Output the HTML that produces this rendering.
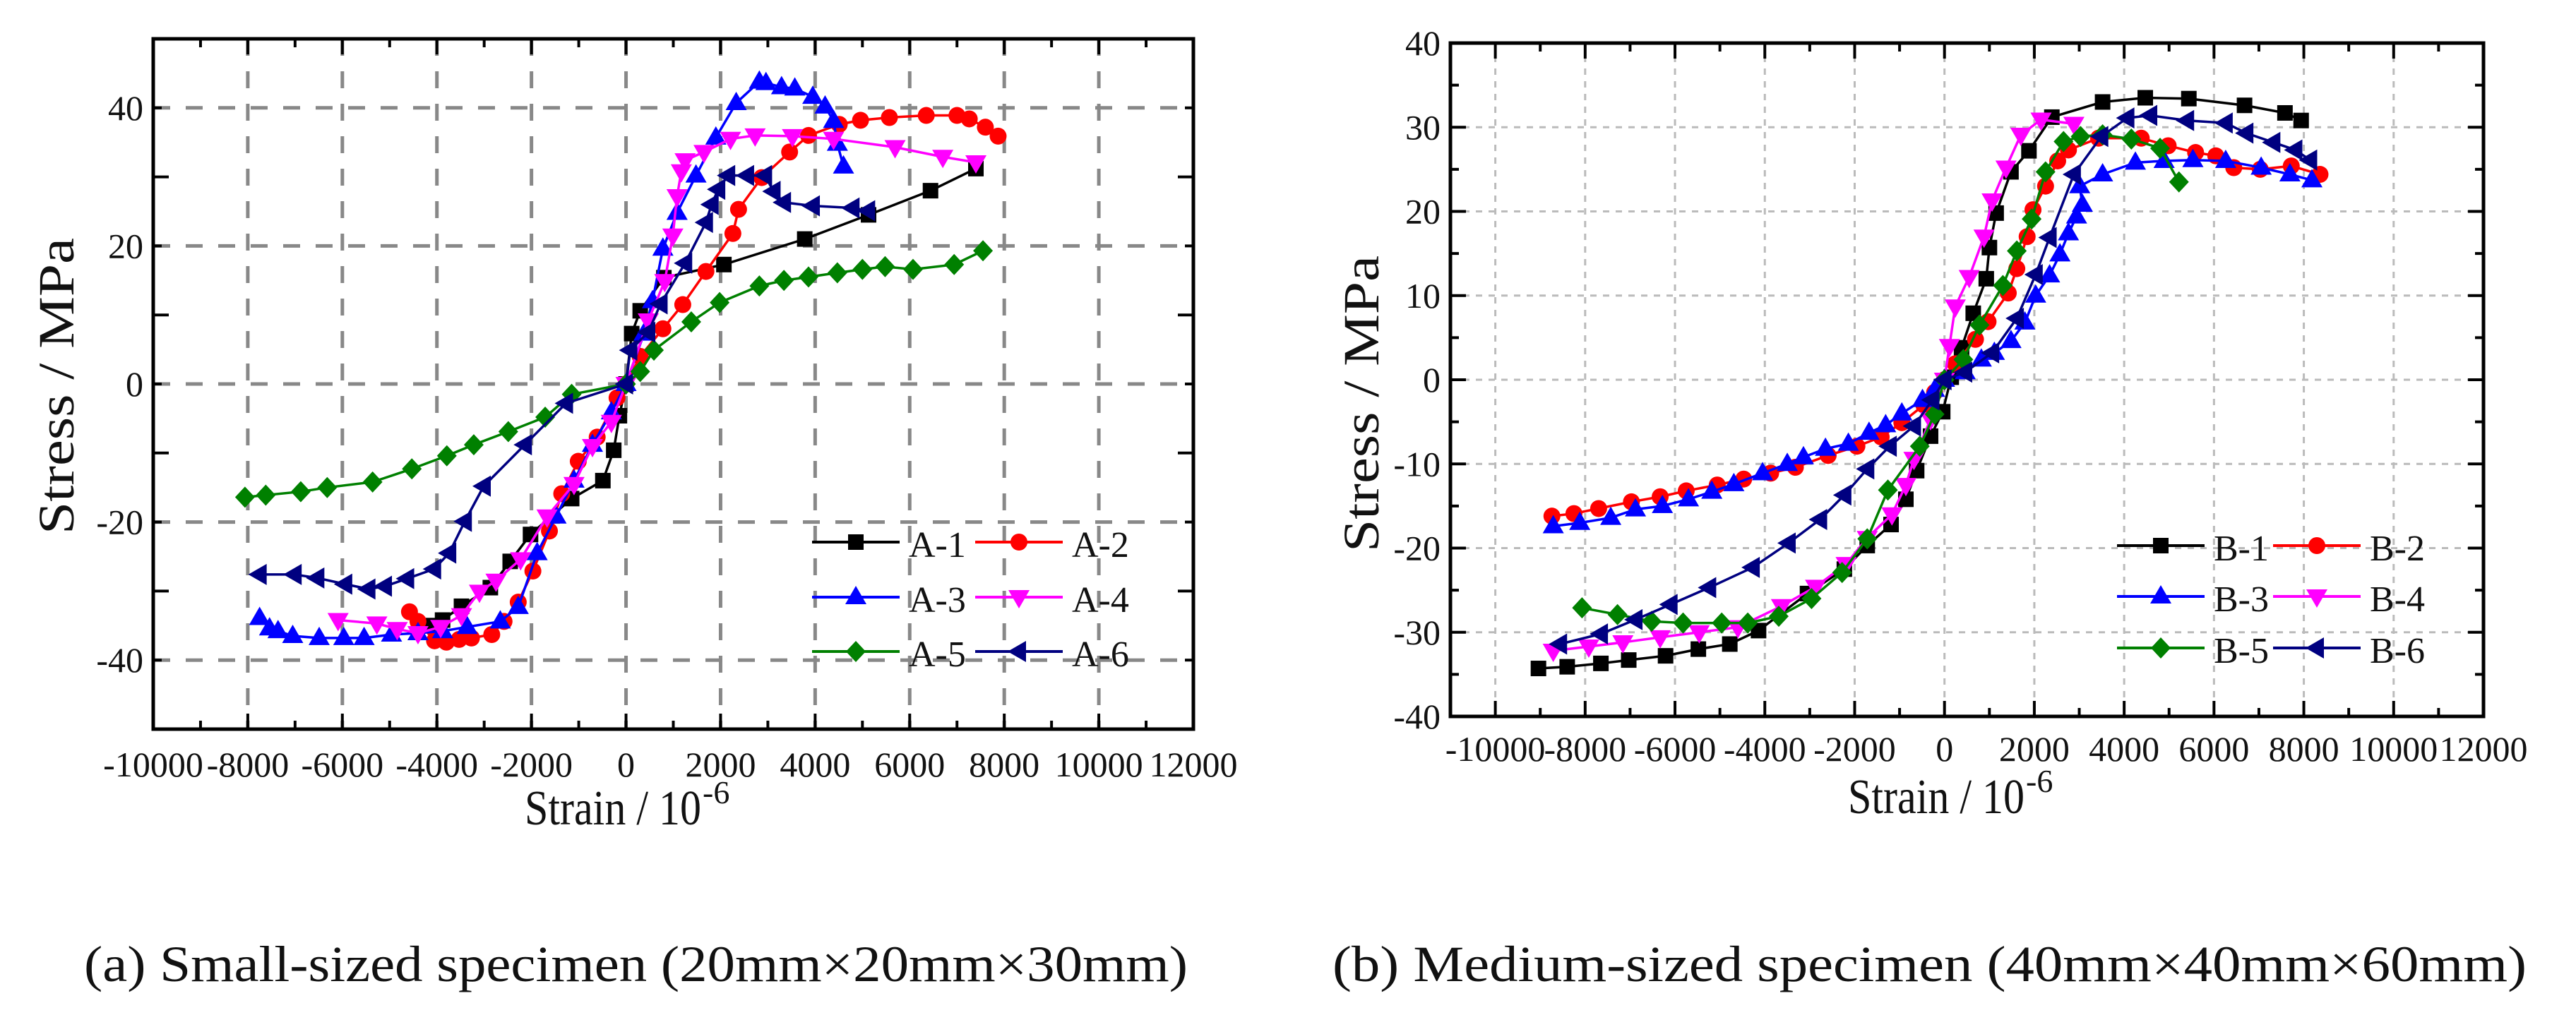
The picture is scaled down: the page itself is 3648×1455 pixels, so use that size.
<!DOCTYPE html>
<html><head><meta charset="utf-8"><style>
html,body{margin:0;padding:0;background:#fff}
svg{display:block}
text{font-family:"Liberation Serif",serif;fill:#111}
</style></head><body>
<svg id="fig" width="3648" height="1455" viewBox="0 0 3648 1455" xmlns="http://www.w3.org/2000/svg">
<g id="chartA"></g>
<g id="chartB"></g>
<text x="119" y="1390" font-size="72" textLength="1563" lengthAdjust="spacingAndGlyphs">(a) Small-sized specimen (20mm×20mm×30mm)</text>
<text x="1887" y="1390" font-size="72" textLength="1691" lengthAdjust="spacingAndGlyphs">(b) Medium-sized specimen (40mm×40mm×60mm)</text>
</svg>
<script>
// ---------- Chart A data ----------
const xTicksA = ["-10000","-8000","-6000","-4000","-2000","0","2000","4000","6000","8000","10000","12000"];
const yTicksA = ["-40","-20","0","20","40"];
const namesA = ["A-1","A-2","A-3","A-4","A-5","A-6"];
const A1x=[-4200,-3880,-3480,-2870,-2450,-2020,-1150,-490,-260,-140,0,120,300,800,2070,3780,5130,6440,7400];
const A1y=[-35,-34.2,-32.2,-29.5,-25.7,-21.8,-16.6,-14,-9.6,-4.6,0,7.3,10.6,15.4,17.3,21,24.5,28,31.2];
const A2x=[-4580,-4400,-4050,-3800,-3530,-3270,-2840,-2580,-2280,-1970,-1620,-1360,-1010,-610,-190,0,300,780,1200,1690,2260,2380,2870,3460,3860,4510,4960,5570,6350,7000,7260,7600,7870];
const A2y=[-33,-34.4,-37.2,-37.4,-37,-36.8,-36.3,-34.4,-31.6,-27.1,-21.3,-15.9,-11.2,-7.7,-2,0,4,8,11.5,16.3,21.8,25.3,29.9,33.6,36,37.6,38.2,38.6,38.9,38.9,38.4,37.2,35.9];
const A3x=[-7750,-7540,-7360,-7050,-6490,-5970,-5540,-4960,-4400,-3880,-3360,-2660,-2280,-1880,-1480,-1100,-710,-310,0,380,560,780,1080,1480,1900,2330,2820,2960,3290,3570,3950,4210,4390,4470,4600];
const A3y=[-33.9,-35.4,-35.8,-36.5,-36.8,-36.8,-36.8,-36.3,-36.1,-35.8,-35.2,-34.4,-32.3,-24.5,-19.2,-14,-8.8,-4.1,0,7.3,12,19.6,24.8,30.2,35.7,40.7,43.8,43.6,43,42.8,41.6,40.2,38.1,34.8,31.5];
const A4x=[-6090,-5270,-4840,-4400,-3920,-3480,-3100,-2750,-2230,-1670,-1100,-710,-310,0,470,820,990,1080,1170,1250,1650,2210,2730,3520,4390,5690,6700,7400];
const A4y=[-34.2,-34.7,-35.5,-36.1,-35.2,-33.5,-30.1,-28.5,-25.4,-19.2,-14.5,-9,-5.5,0,9.2,14.9,21.5,27.2,30.8,32.4,33.6,35.5,36,35.9,35.5,34.3,32.9,32.1];
const A5x=[-8060,-7620,-6880,-6320,-5360,-4530,-3790,-3220,-2490,-1710,-1150,0,300,590,1380,1980,2820,3340,3860,4470,5000,5480,6070,6940,7550];
const A5y=[-16.4,-16.1,-15.6,-15,-14.2,-12.3,-10.4,-8.8,-6.9,-4.8,-1.5,0,1.8,4.9,9,11.8,14.2,15,15.5,16.1,16.6,17,16.6,17.3,19.3];
const A6x=[-7750,-7010,-6530,-5940,-5450,-5100,-4630,-4060,-3740,-3410,-3010,-2140,-1270,0,90,470,730,1250,1690,1810,1950,2160,2560,2940,3120,3340,3950,4790,5120];
const A6y=[-27.6,-27.6,-28.1,-29,-29.7,-29.3,-28.2,-26.8,-24.5,-19.9,-14.8,-8.8,-2.8,0,4.9,7.5,11.6,17.5,23.4,26,28.2,30.2,30.2,30.2,27.9,26.3,25.8,25.5,25.1];

// ---------- Chart B data ----------
const xTicksB = ["-10000","-8000","-6000","-4000","-2000","0","2000","4000","6000","8000","10000","12000"];
const yTicksB = ["-40","-30","-20","-10","0","10","20","30","40"];
const namesB = ["B-1","B-2","B-3","B-4","B-5","B-6"];
const B1x=[-9040,-8400,-7650,-7030,-6210,-5480,-4780,-4140,-3050,-2230,-1720,-1190,-860,-620,-310,-40,150,380,640,930,1000,1150,1480,1880,2390,3520,4470,5440,6680,7580,7940];
const B1y=[-34.3,-34.1,-33.7,-33.3,-32.8,-32,-31.4,-29.8,-25.4,-22.5,-19.7,-17.2,-14.2,-10.8,-6.7,-3.8,0.3,3.8,7.9,12,15.7,19.8,24.7,27.2,31.2,33,33.5,33.4,32.6,31.7,30.8];
const B2x=[-8740,-8250,-7700,-6970,-6330,-5750,-5060,-4470,-3870,-3320,-2590,-1950,-1410,-950,-460,-220,0,240,690,970,1420,1610,1840,1970,2250,2520,2760,3430,4380,4980,5590,6040,6440,7030,7720,8360];
const B2y=[-16.2,-15.9,-15.3,-14.5,-13.9,-13.2,-12.5,-11.8,-11.1,-10.4,-9,-7.9,-6.8,-5.1,-3,-1.5,0,1.9,4.8,6.9,10.3,13.2,17,20.2,23,26,27.3,28.7,28.7,27.8,27,26.6,25.2,25,25.4,24.4];
const B3x=[-8710,-8120,-7430,-6880,-6280,-5700,-5180,-4690,-4050,-3500,-3140,-2650,-2140,-1680,-1310,-950,-490,-220,0,460,820,1110,1480,1790,2030,2340,2570,2760,2940,3070,3010,3520,4250,4890,5530,6260,7050,7690,8180];
const B3y=[-17.4,-17,-16.4,-15.4,-15,-14.2,-13.3,-12.4,-11.1,-10,-9.2,-8.2,-7.6,-6.3,-5.4,-4,-2.4,-1.2,0,0.9,2.4,3.2,4.6,6.8,10,12.4,14.9,17.4,19.4,20.8,23,24.4,25.8,26,26.1,26,25.2,24.4,23.7];
const B4x=[-8710,-7920,-7160,-6330,-5460,-4600,-3630,-2870,-2190,-1720,-1170,-860,-680,-310,0,110,240,550,880,1060,1370,1700,2150,2880];
const B4y=[-32.2,-31.7,-31.2,-30.6,-30,-29.4,-26.9,-24.6,-21.9,-18.8,-16,-12.5,-9.4,-4.7,0,4,8.7,12.2,17,21.3,25.2,29.1,30.9,30.4];
const B5x=[-8070,-7280,-6520,-5820,-4960,-4380,-3690,-2960,-2280,-1720,-1260,-550,-220,0,420,780,1300,1610,1940,2250,2650,3030,3520,4160,4800,5220];
const B5y=[-27.1,-27.9,-28.7,-28.9,-28.9,-28.9,-28.1,-26,-22.9,-18.9,-13.1,-7.9,-4.1,0,2.4,6.5,11.2,15.3,19.1,24.7,28.3,28.9,29.1,28.6,27.5,23.5];
const B6x=[-8560,-7650,-6880,-6100,-5240,-4270,-3470,-2770,-2230,-1720,-1220,-680,-270,0,460,1060,1610,2030,2340,2880,3490,4070,4580,5400,6260,6720,7320,7810,8140];
const B6y=[-31.4,-30.2,-28.5,-26.7,-24.7,-22.3,-19.4,-16.6,-13.7,-10.6,-7.9,-5.5,-2.4,0,0.9,3.2,7.3,12.5,16.9,24.4,28.9,31.1,31.4,30.8,30.5,29.3,28.2,27.3,26.1];

const NS="http://www.w3.org/2000/svg";
const colors=["#000000","#ff0000","#0000ff","#ff00ff","#008000","#000080"];
const shapes=["square","circle","up","down","diamond","left"];

function mk(tag,attrs,parent){const e=document.createElementNS(NS,tag);for(const k in attrs)e.setAttribute(k,attrs[k]);parent.appendChild(e);return e;}

function marker(g,shape,cx,cy,c){
  let e;const s=11;
  if(shape==="square") e=mk("rect",{x:cx-s,y:cy-s,width:2*s,height:2*s,fill:c},g);
  else if(shape==="circle") e=mk("circle",{cx:cx,cy:cy,r:12,fill:c},g);
  else if(shape==="up") e=mk("polygon",{points:`${cx},${cy-16} ${cx+15},${cy+10} ${cx-15},${cy+10}`,fill:c},g);
  else if(shape==="down") e=mk("polygon",{points:`${cx},${cy+16} ${cx+15},${cy-10} ${cx-15},${cy-10}`,fill:c},g);
  else if(shape==="diamond") e=mk("polygon",{points:`${cx},${cy-15} ${cx+14},${cy} ${cx},${cy+15} ${cx-14},${cy}`,fill:c},g);
  else e=mk("polygon",{points:`${cx-16},${cy} ${cx+10},${cy-15} ${cx+10},${cy+15}`,fill:c},g);
  return e;
}

function drawChart(g,cfg){
  const X=v=>cfg.x0+(v-cfg.xmin)/(cfg.xmax-cfg.xmin)*(cfg.x1-cfg.x0);
  const Y=v=>cfg.y1-(v-cfg.ymin)/(cfg.ymax-cfg.ymin)*(cfg.y1-cfg.y0);
  const grid=mk("g",{},g);
  
  
  for(let v=cfg.gxStart;v<=cfg.gxEnd;v+=cfg.gxStep){mk("line",{x1:X(v),x2:X(v),y1:cfg.y0,y2:cfg.y1,stroke:cfg.gridColor,"stroke-width":cfg.gridW,"stroke-dasharray":cfg.dash},grid);}
  for(let v=cfg.gyStart;v<=cfg.gyEnd;v+=cfg.gyStep){mk("line",{x1:cfg.x0,x2:cfg.x1,y1:Y(v),y2:Y(v),stroke:cfg.gridColor,"stroke-width":cfg.gridW,"stroke-dasharray":cfg.dash},grid);}
  const tk=mk("g",{stroke:"#000","stroke-width":4},g);
  
  
  for(let v=cfg.xmin;v<=cfg.xmax+1e-6;v+=cfg.xMinor){
    const major=Math.abs(((v-cfg.xMajorBase)/cfg.xMajor)-Math.round((v-cfg.xMajorBase)/cfg.xMajor))<1e-6;
    const L=major?22:12;const x=X(v);
    mk("line",{x1:x,x2:x,y1:cfg.y1,y2:cfg.y1-L},tk);mk("line",{x1:x,x2:x,y1:cfg.y0,y2:cfg.y0+L},tk);
  }
  for(let v=cfg.ymin;v<=cfg.ymax+1e-6;v+=cfg.yMinor){
    const major=Math.abs((v-cfg.ymin)/cfg.yMajor-Math.round((v-cfg.ymin)/cfg.yMajor))<1e-6;
    const L=major?22:12;const y=Y(v);
    mk("line",{x1:cfg.x0,x2:cfg.x0+L,y1:y,y2:y},tk);mk("line",{x1:cfg.x1,x2:cfg.x1-L,y1:y,y2:y},tk);
  }
  const fr=mk("rect",{x:cfg.x0,y:cfg.y0,width:cfg.x1-cfg.x0,height:cfg.y1-cfg.y0,fill:"none",stroke:"#000","stroke-width":5},g);
  
  
  cfg.xTicks.forEach(t=>{
    const e=mk("text",{x:X(+t),y:cfg.xLabelY,"font-size":50,"text-anchor":"middle"},g);
    
    
    e.textContent=t;
  });
  cfg.yTicks.forEach(t=>{
    const e=mk("text",{x:cfg.x0-14,y:Y(+t)+17,"font-size":50,"text-anchor":"end"},g);
    
    
    e.textContent=t;
  });
  const xt=mk("text",{x:cfg.xTitleX,y:cfg.xTitleY,"font-size":70,textLength:250,lengthAdjust:"spacingAndGlyphs"},g);
  
  
  xt.textContent="Strain / 10";
  const sup=mk("text",{x:cfg.xTitleX+252,y:cfg.xTitleY-30,"font-size":46},g);
  
  
  sup.textContent="-6";
  const yt=mk("text",{x:0,y:0,"font-size":72,"text-anchor":"middle",textLength:420,lengthAdjust:"spacingAndGlyphs",transform:`translate(${cfg.yTitleX},${cfg.yTitleY}) rotate(-90)`},g);
  
  
  yt.textContent="Stress / MPa";
  cfg.series.forEach((s,i)=>{
    const sg=mk("g",{},g);
    
    
    const pts=s[0].map((v,j)=>X(v)+","+Y(s[1][j])).join(" ");
    mk("polyline",{points:pts,fill:"none",stroke:colors[i],"stroke-width":3.5,"stroke-linejoin":"round"},sg);
    s[0].forEach((v,j)=>{
      const m=marker(sg,shapes[i],X(v),Y(s[1][j]),colors[i]);
      
      
    });
  });
  const lg=mk("g",{},g);
  
  
  cfg.names.forEach((n,i)=>{
    const col=i%2,row=Math.floor(i/2);
    const lx=cfg.legX[col],ly=cfg.legY[row];
    const eg=mk("g",{},lg);
    
    
    mk("line",{x1:lx,x2:lx+124,y1:ly,y2:ly,stroke:colors[i],"stroke-width":4},eg);
    marker(eg,shapes[i],lx+62,ly,colors[i]);
    const t=mk("text",{x:lx+137,y:ly+21,"font-size":52},eg);
    t.textContent=n;
  });
}

drawChart(document.getElementById("chartA"),{
  x0:217,x1:1690,y0:55,y1:1033,xmin:-10000,xmax:12000,ymin:-50,ymax:50,
  gxStart:-8000,gxEnd:10000,gxStep:2000,gyStart:-40,gyEnd:40,gyStep:20,
  gridColor:"#888",gridW:5,dash:"24 22",
  xMinor:1000,xMajor:2000,xMajorBase:-10000,yMinor:10,yMajor:20,
  xTicks:xTicksA,yTicks:yTicksA,xLabelY:1100,xTitleX:743,xTitleY:1168,yTitleX:104,yTitleY:547,
  names:namesA,series:[[A1x,A1y],[A2x,A2y],[A3x,A3y],[A4x,A4y],[A5x,A5y],[A6x,A6y]],
  legX:[1150,1381],legY:[768,846,923]
});
drawChart(document.getElementById("chartB"),{
  x0:2054,x1:3517,y0:61,y1:1015,xmin:-11000,xmax:12000,ymin:-40,ymax:40,
  gxStart:-10000,gxEnd:10000,gxStep:2000,gyStart:-30,gyEnd:30,gyStep:10,
  gridColor:"#bbb",gridW:3,dash:"9 9",
  xMinor:1000,xMajor:2000,xMajorBase:-10000,yMinor:5,yMajor:10,
  xTicks:xTicksB,yTicks:yTicksB,xLabelY:1078,xTitleX:2617,xTitleY:1152,yTitleX:1952,yTitleY:572,
  names:namesB,series:[[B1x,B1y],[B2x,B2y],[B3x,B3y],[B4x,B4y],[B5x,B5y],[B6x,B6y]],
  legX:[2998,3219],legY:[773,845,918]
});
</script>
</body></html>
